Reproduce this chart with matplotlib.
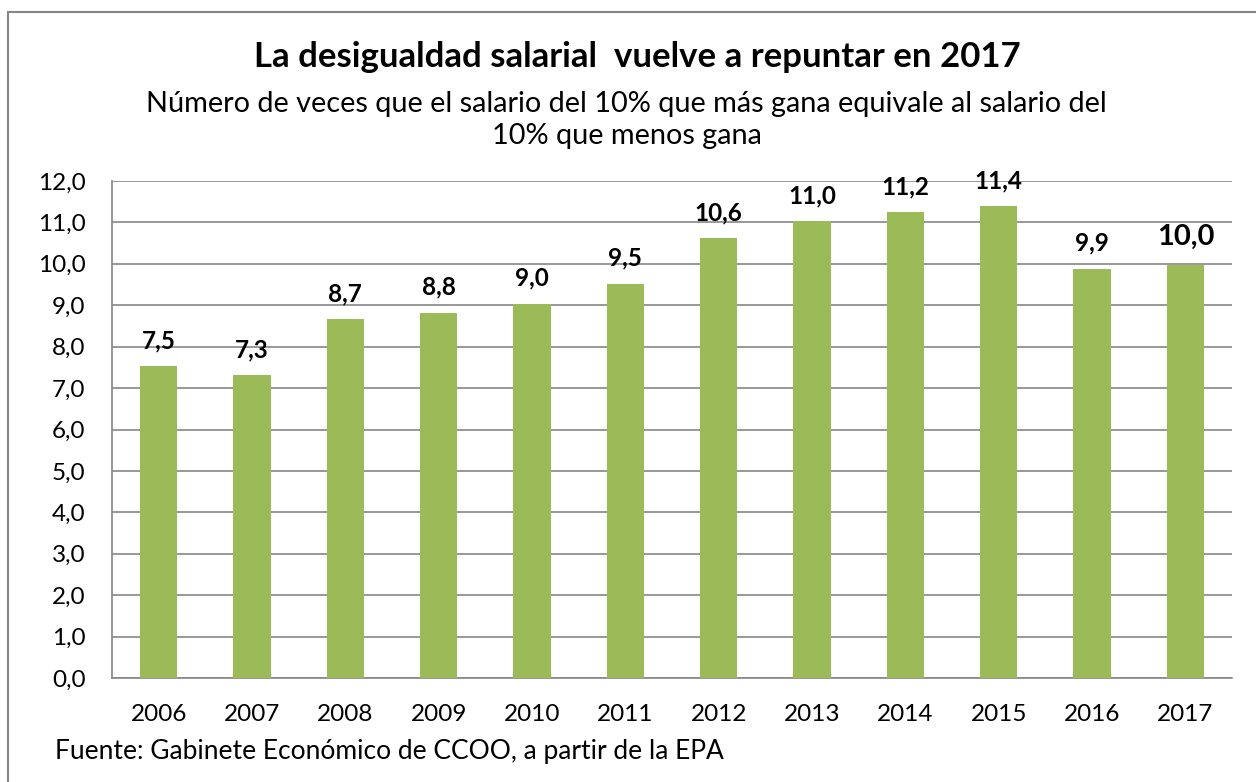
import matplotlib
matplotlib.use("Agg")
import matplotlib.pyplot as plt
from matplotlib.patches import Rectangle

years = ["2006", "2007", "2008", "2009", "2010", "2011", "2012", "2013", "2014", "2015", "2016", "2017"]
values = [7.53, 7.32, 8.67, 8.82, 9.04, 9.52, 10.62, 11.03, 11.24, 11.40, 9.88, 9.98]
yticks = [0, 1, 2, 3, 4, 5, 6, 7, 8, 9, 10, 11, 12]

title = "La desigualdad salarial  vuelve a repuntar en 2017"
subtitle = "Número de veces que el salario del 10% que más gana equivale al salario del\n10% que menos gana"
source = "Fuente: Gabinete Económico de CCOO, a partir de la EPA"

plt.rcParams['font.family'] = ['Lato', 'DejaVu Sans']

W, H = 1256, 782
fig = plt.figure(figsize=(W / 100, H / 100), dpi=100)
fig.patch.set_facecolor("white")

# outer frame
fig.patches.append(Rectangle((8 / W, -0.01), 1.02, 1 - 12 / H + 0.01, transform=fig.transFigure,
                             fill=False, edgecolor="#868686", linewidth=1.5))

left, right, top, bottom = 112, 1232, 181, 678
ax = fig.add_axes([left / W, 1 - bottom / H, (right - left) / W, (bottom - top) / H])

x = list(range(len(years)))
ax.bar(x, values, width=0.4, color="#9BBB59", zorder=3)
ax.set_xlim(-0.5, len(years) - 0.5)
ax.set_ylim(0, 12)
ax.set_yticks(yticks)
ax.set_yticklabels([f"{v:.1f}".replace(".", ",") for v in yticks])
ax.set_xticks(x)
ax.set_xticklabels(years)
ax.yaxis.grid(True, color="#868686", linewidth=1.2, zorder=0)
ax.set_axisbelow(True)
for s in ["top", "right"]:
    ax.spines[s].set_visible(False)
for s in ["left", "bottom"]:
    ax.spines[s].set_color("#868686")
    ax.spines[s].set_linewidth(1.2)
ax.tick_params(axis="both", length=0, labelsize=17.5, colors="black")
ax.tick_params(axis="x", pad=19)
ax.tick_params(axis="y", pad=19)

for i, v in enumerate(values):
    big = (i == len(values) - 1)
    ax.annotate(f"{v:.1f}".replace(".", ","), (i, v), xytext=(0, 11 if big else 10),
                textcoords="offset points", ha="center", va="bottom",
                fontsize=21 if big else 17.5, fontweight="bold")

fig.text(0.5 * (253 + 1022) / W, 1 - 57 / H, title, ha="center", va="center",
         fontsize=25, fontweight="bold")
fig.text(0.5 * (145 + 1108) / W, 1 - 120 / H, subtitle, ha="center", va="center",
         fontsize=20.8, linespacing=1.32)
fig.text(55 / W, 1 - 752 / H, source, ha="left", va="center", fontsize=19)

fig.savefig("out.png", dpi=100)
